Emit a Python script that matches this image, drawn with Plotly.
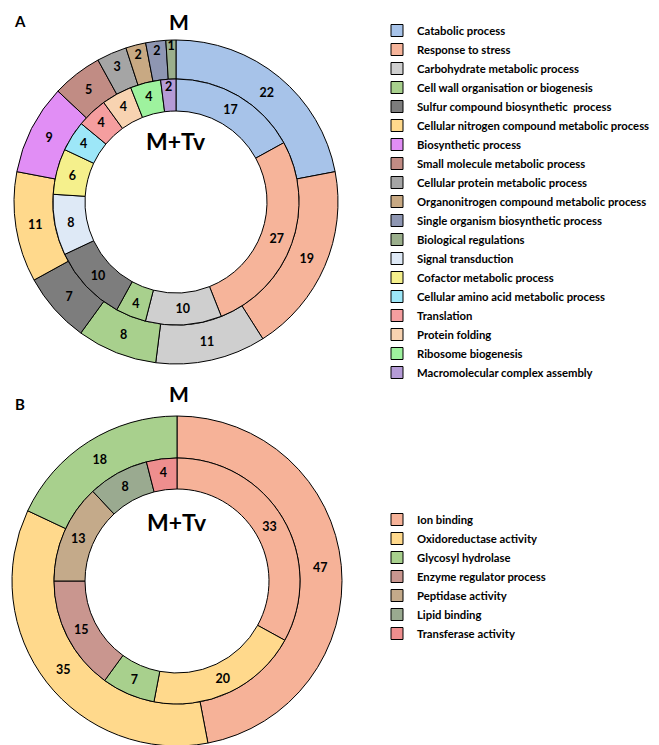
import plotly.graph_objects as go

W, H = 659, 745

# ---------------- Panel A data ----------------
a_outer_labels = ["Catabolic process", "Response to stress", "Carbohydrate metabolic process",
                  "Cell wall organisation or biogenesis", "Sulfur compound biosynthetic  process",
                  "Cellular nitrogen compound metabolic process", "Biosynthetic process",
                  "Small molecule metabolic process", "Cellular protein metabolic process",
                  "Organonitrogen compound metabolic process", "Single organism biosynthetic process",
                  "Biological regulations"]
a_outer_values = [22, 19, 11, 8, 7, 11, 9, 5, 3, 2, 2, 1]

a_inner_labels = ["Catabolic process", "Response to stress", "Carbohydrate metabolic process",
                  "Cell wall organisation or biogenesis", "Sulfur compound biosynthetic  process",
                  "Signal transduction", "Cofactor metabolic process",
                  "Cellular amino acid metabolic process", "Translation", "Protein folding",
                  "Ribosome biogenesis", "Macromolecular complex assembly"]
a_inner_values = [17, 27, 10, 4, 10, 8, 6, 4, 4, 4, 4, 2]

a_colors = {
    "Catabolic process": "#A7C3E9",
    "Response to stress": "#F6B49A",
    "Carbohydrate metabolic process": "#CFCFCF",
    "Cell wall organisation or biogenesis": "#A8D08D",
    "Sulfur compound biosynthetic  process": "#7D7D7D",
    "Cellular nitrogen compound metabolic process": "#FFD98C",
    "Biosynthetic process": "#E18EF5",
    "Small molecule metabolic process": "#C18C84",
    "Cellular protein metabolic process": "#A5A5A5",
    "Organonitrogen compound metabolic process": "#C8A983",
    "Single organism biosynthetic process": "#8E96B2",
    "Biological regulations": "#9BAF8C",
    "Signal transduction": "#DEE9F6",
    "Cofactor metabolic process": "#F5F08C",
    "Cellular amino acid metabolic process": "#9DE7F8",
    "Translation": "#F59E9F",
    "Protein folding": "#F8D3B1",
    "Ribosome biogenesis": "#9EF29E",
    "Macromolecular complex assembly": "#B59BD6",
}

# ---------------- Panel B data ----------------
b_outer_labels = ["Ion binding", "Oxidoreductase activity", "Glycosyl hydrolase"]
b_outer_values = [47, 35, 18]
b_inner_labels = ["Ion binding", "Oxidoreductase activity", "Glycosyl hydrolase",
                  "Enzyme regulator process", "Peptidase activity", "Lipid binding",
                  "Transferase activity"]
b_inner_values = [33, 20, 7, 15, 13, 8, 4]

b_colors = {
    "Ion binding": "#F6B298",
    "Oxidoreductase activity": "#FFD98C",
    "Glycosyl hydrolase": "#A8D08D",
    "Enzyme regulator process": "#C9968F",
    "Peptidase activity": "#C4AA8A",
    "Lipid binding": "#9AAA90",
    "Transferase activity": "#EE8E8E",
}

FONT = "Lato"


def dom(cx, cy, r):
    return dict(x=[(cx - r) / W, (cx + r) / W], y=[1 - (cy + r) / H, 1 - (cy - r) / H])


def ring(labels, values, cmap, cx, cy, r_out, r_in, legend):
    return go.Pie(
        labels=labels, values=values, sort=False, direction="clockwise", rotation=0,
        hole=r_in / r_out, domain=dom(cx, cy, r_out),
        marker=dict(colors=[cmap[l] for l in labels], line=dict(color="black", width=1)),
        textinfo="value", textposition="inside", insidetextorientation="horizontal",
        textfont=dict(family=FONT, size=12.5, color="black", weight="bold"),
        legend=legend, hoverinfo="label+value",
    )


fig = go.Figure()
fig.add_trace(ring(a_outer_labels, a_outer_values, a_colors, 168, 194, 162, 123, "legend"))
fig.add_trace(ring(a_inner_labels, a_inner_values, a_colors, 168, 194, 123, 91, "legend"))
fig.add_trace(ring(b_outer_labels, b_outer_values, b_colors, 169, 573, 165, 123, "legend2"))
fig.add_trace(ring(b_inner_labels, b_inner_values, b_colors, 169, 573, 123, 92, "legend2"))

leg_font = dict(family=FONT, size=11.3, color="black", weight="bold")
fig.update_layout(
    width=W, height=H, margin=dict(l=0, r=0, t=0, b=0),
    paper_bgcolor="white", plot_bgcolor="white",
    uniformtext=dict(minsize=12.5, mode="show"),
    legend=dict(x=369 / W, xanchor="left", y=1 - 8 / H, yanchor="top",
                font=leg_font, bgcolor="rgba(0,0,0,0)", traceorder="normal"),
    legend2=dict(x=369 / W, xanchor="left", y=1 - 497 / H, yanchor="top",
                 font=leg_font, bgcolor="rgba(0,0,0,0)", traceorder="normal"),
)

# (text, x, y, size, yanchor)
ann = [
    ("A", 12, 13, 15, "middle"), ("M", 171, 0, 21, "top"), ("M+Tv", 168, 133, 23, "middle"),
    ("B", 12, 396, 15, "middle"), ("M", 171, 372, 21, "top"), ("M+Tv", 169, 514, 23, "middle"),
]
for t, x, y, s, ya in ann:
    fig.add_annotation(text=t, x=x / W, y=1 - y / H, xref="paper", yref="paper",
                       showarrow=False, xanchor="center", yanchor=ya, borderpad=0,
                       font=dict(family=FONT, size=s, color="black", weight="bold"))

fig.write_html("out.html")
